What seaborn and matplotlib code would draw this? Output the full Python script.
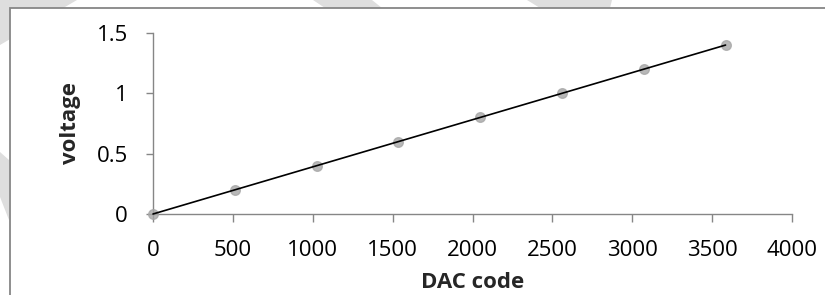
import matplotlib
matplotlib.use("Agg")
import matplotlib.pyplot as plt
import seaborn as sns
from matplotlib.patches import Polygon, Rectangle
from matplotlib.ticker import FuncFormatter

dac_code = [0, 512, 1024, 1536, 2048, 2560, 3072, 3584]
voltage = [0, 0.2, 0.4, 0.6, 0.8, 1.0, 1.2, 1.4]
x_ticks = [0, 500, 1000, 1500, 2000, 2500, 3000, 3500, 4000]
y_ticks = [0, 0.5, 1, 1.5]

sns.set_style("white")
plt.rcParams['font.family'] = ['Open Sans', 'DejaVu Sans']
plt.rcParams['font.size'] = 16

W, H = 825, 295
fig = plt.figure(figsize=(W / 100, H / 100), dpi=100)


def px(pts):
    return [(x / W, 1 - y / H) for x, y in pts]


# faint watermark pieces peeking out around the chart frame
watermark = [
    [(0, 0), (77, 0), (0, 45)],
    [(313, 0), (372, 0), (382, 8), (325, 8)],
    [(527, 0), (612, 0), (610, 8), (540, 8)],
    [(0, 152), (9, 160), (9, 220), (0, 197)],
]
for shape in watermark:
    fig.patches.append(Polygon(px(shape), closed=True, transform=fig.transFigure,
                               facecolor='#dedede', edgecolor='none', zorder=-3))

# chart frame
fig.patches.append(Rectangle((10 / W, -0.1), 1.0, 1 - 8 / H + 0.1, transform=fig.transFigure,
                             facecolor='white', edgecolor='#868686', linewidth=1.3, zorder=-2))

ax = fig.add_axes([153 / W, 1 - 214 / H, (792 - 153) / W, (214 - 33) / H])
ax.set_facecolor('none')

sns.regplot(x=dac_code, y=voltage, ax=ax, ci=None, truncate=True,
            scatter_kws=dict(color='#a6a6a6', s=48, clip_on=False, zorder=3),
            line_kws=dict(color='black', lw=1.2, zorder=4, clip_on=False))

ax.set_xlim(0, 4000)
ax.set_ylim(0, 1.5)
ax.set_xticks(x_ticks)
ax.set_yticks(y_ticks)
ax.yaxis.set_major_formatter(FuncFormatter(lambda v, p: f"{v:g}"))

for side in ['top', 'right']:
    ax.spines[side].set_visible(False)
for side in ['left', 'bottom']:
    ax.spines[side].set_color('#868686')
    ax.spines[side].set_linewidth(1)

ax.tick_params(axis='x', bottom=True, length=6, width=1, color='#868686', pad=13,
               labelsize=16, labelcolor='black')
ax.tick_params(axis='y', left=True, length=5, width=1, color='#868686', pad=13,
               labelsize=16, labelcolor='black')

ax.set_xlabel('DAC code', fontsize=16, fontweight='bold', labelpad=8)
ax.set_ylabel('voltage', fontsize=16, fontweight='bold', labelpad=11)

fig.savefig('out.png', dpi=100)
